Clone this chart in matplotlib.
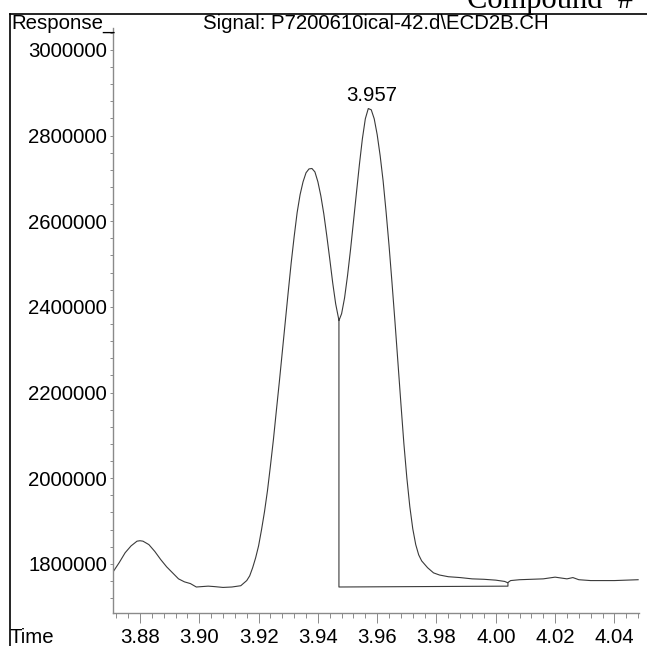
import numpy as np
import matplotlib
matplotlib.use("Agg")
import matplotlib.pyplot as plt
from matplotlib.lines import Line2D
from matplotlib.ticker import MultipleLocator, FixedLocator, FuncFormatter

plt.rcParams["font.family"] = ["Liberation Sans", "DejaVu Sans"]

# -------- chromatogram trace (min, counts) --------
time_min = [
    3.871, 3.873, 3.875, 3.877, 3.879, 3.880, 3.881, 3.883, 3.885, 3.887,
    3.889, 3.891, 3.893, 3.895, 3.897, 3.899, 3.901, 3.903, 3.905, 3.908,
    3.911, 3.914, 3.916, 3.917, 3.918, 3.919, 3.920, 3.921, 3.922, 3.923,
    3.924, 3.925, 3.926, 3.927, 3.928, 3.929, 3.930, 3.931, 3.932, 3.933,
    3.934, 3.935, 3.936, 3.937, 3.938, 3.939, 3.940, 3.941, 3.942, 3.943,
    3.944, 3.945, 3.946, 3.947, 3.9471, 3.948, 3.949, 3.950, 3.951, 3.952,
    3.953, 3.954, 3.955, 3.956, 3.957, 3.958, 3.959, 3.960, 3.961, 3.962,
    3.963, 3.964, 3.965, 3.966, 3.967, 3.968, 3.969, 3.970, 3.971, 3.972,
    3.973, 3.974, 3.975, 3.977, 3.979, 3.981, 3.984, 3.988, 3.992, 3.996,
    4.000, 4.003, 4.004, 4.005, 4.008, 4.012, 4.016, 4.020, 4.022, 4.024,
    4.026, 4.028, 4.032, 4.036, 4.040, 4.044, 4.048,
]
response = [
    1782000, 1803000, 1826000, 1842000, 1853000, 1854000, 1853000, 1845000, 1829000, 1810000,
    1793000, 1779000, 1765000, 1758000, 1754000, 1746000, 1747000, 1748000, 1747000, 1745000,
    1746000, 1749000, 1761000, 1772000, 1791000, 1814000, 1842000, 1880000, 1922000, 1971000,
    2029000, 2090000, 2158000, 2225000, 2295000, 2365000, 2435000, 2503000, 2564000, 2620000,
    2662000, 2692000, 2713000, 2722000, 2723000, 2715000, 2692000, 2659000, 2617000, 2566000,
    2512000, 2456000, 2407000, 2372000, 2368000, 2384000, 2421000, 2473000, 2533000, 2599000,
    2666000, 2732000, 2792000, 2839000, 2863000, 2860000, 2839000, 2802000, 2753000, 2694000,
    2622000, 2543000, 2456000, 2365000, 2270000, 2174000, 2081000, 2001000, 1934000, 1882000,
    1845000, 1821000, 1807000, 1791000, 1779000, 1774000, 1770000, 1768000, 1765000, 1764000,
    1762000, 1759000, 1756000, 1761000, 1763000, 1764000, 1765000, 1769000, 1767000, 1765000,
    1768000, 1763000, 1761000, 1761000, 1761000, 1762000, 1763000,
]

# integration baseline: drop line at the valley, then across to the end point
base_t = [3.9471, 3.9471, 4.0041, 4.0041]
base_r = [2368000, 1746000, 1748000, 1756000]

peak_rt = 3.957
peak_height = 2863000

x_ticks = [3.88, 3.90, 3.92, 3.94, 3.96, 3.98, 4.00, 4.02, 4.04]
x_tick_labels = ["3.88", "3.90", "3.92", "3.94", "3.96", "3.98", "4.00", "4.02", "4.04"]

signal_name = r"Signal: P7200610ical-42.d\ECD2B.CH"

W, H = 647, 646
fig = plt.figure(figsize=(W / 100, H / 100), dpi=100)
fig.patch.set_facecolor("white")


def fx(px):
    return px / W


def fy(py):
    return 1 - py / H


ax = fig.add_axes([fx(112.7), fy(612.7), fx(639) - fx(112.7), fy(28) - fy(612.7)])

ax.plot(time_min, response, color="#3a3a3a", lw=0.8)
ax.plot(base_t, base_r, color="#3a3a3a", lw=0.8)

ax.annotate(f"{peak_rt:.3f}", xy=(peak_rt, peak_height), xytext=(2.5, 2.5),
            textcoords="offset points", ha="center", va="bottom", fontsize=14.7)

ax.set_xlim(3.8708, 4.0483)
ax.set_ylim(1686000, 3051000)

ax.xaxis.set_major_locator(FixedLocator(x_ticks))
ax.xaxis.set_minor_locator(MultipleLocator(0.004))
ax.set_xticklabels(x_tick_labels)
ax.yaxis.set_major_locator(MultipleLocator(200000))
ax.yaxis.set_minor_locator(MultipleLocator(40000))
ax.yaxis.set_major_formatter(FuncFormatter(lambda v, p: f"{int(round(v))}"))

for side in ("top", "right"):
    ax.spines[side].set_visible(False)
for side in ("left", "bottom"):
    ax.spines[side].set_color("#8a8a8a")
    ax.spines[side].set_linewidth(1.0)

ax.tick_params(axis="x", which="major", length=7.2, width=0.7, color="#8a8a8a",
               labelsize=14.7, pad=3.5)
ax.tick_params(axis="x", which="minor", length=3.6, width=0.7, color="#8a8a8a")
ax.tick_params(axis="y", which="major", length=2.5, width=0.7, color="#8a8a8a",
               labelsize=14.7, pad=1.5)
ax.tick_params(axis="y", which="minor", length=2.0, width=0.7, color="#8a8a8a")

# page frame
fig.add_artist(Line2D([fx(9.5), 1.0], [fy(13.5), fy(13.5)], color="black", lw=1.2))
fig.add_artist(Line2D([fx(9.5), fx(9.5)], [0.0, fy(13.5)], color="black", lw=1.2))

fig.text(fx(467), fy(8), "Compound  #", family="Liberation Serif", fontsize=22,
         va="baseline", ha="left")
fig.text(fx(11), fy(29), "Response_", fontsize=14.7, va="baseline", ha="left")
fig.text(fx(203), fy(29), signal_name, fontsize=14.7, va="baseline", ha="left")
fig.text(fx(10), fy(643), "Time", fontsize=14.7, va="baseline", ha="left")

fig.savefig("out.png", dpi=100)
